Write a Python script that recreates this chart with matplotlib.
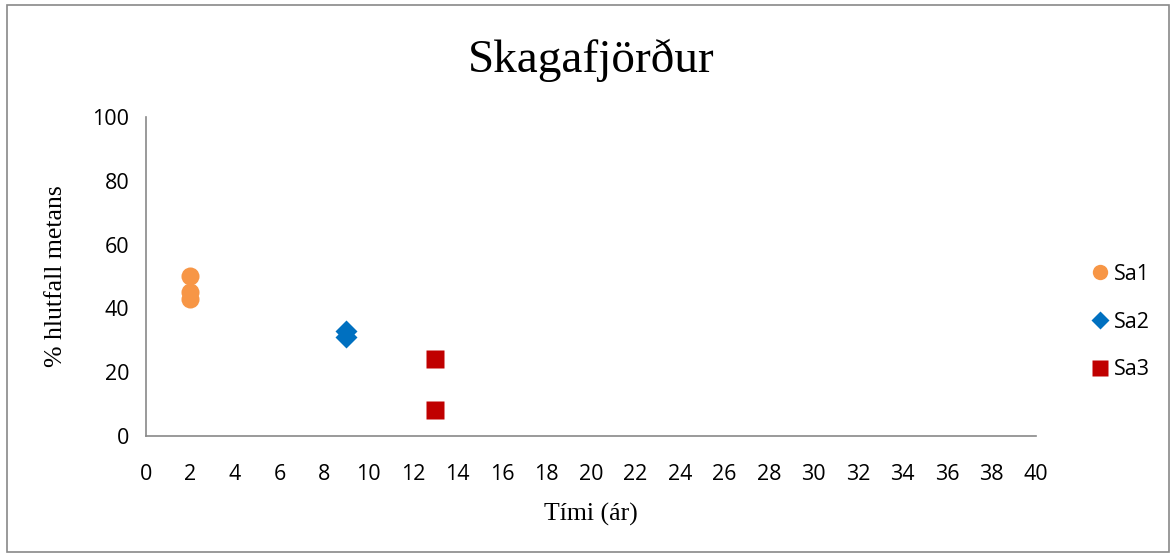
import matplotlib.pyplot as plt
from matplotlib.patches import Rectangle

# Datos
sa1_x = [2, 2, 2]
sa1_y = [50, 45, 43]
sa2_x = [9, 9]
sa2_y = [33, 31]
sa3_x = [13, 13]
sa3_y = [24, 8]

x_ticks = list(range(0, 41, 2))
y_ticks = [0, 20, 40, 60, 80, 100]

fig = plt.figure(figsize=(11.76, 5.54), dpi=100)
ax = fig.add_axes([0.1241, 0.213, 0.757, 0.576])

ax.plot(sa1_x, sa1_y, 'o', color='#F79646', ms=13, mec='none', label='Sa1', clip_on=False)
ax.plot(sa2_x, sa2_y, 'D', color='#0070C0', ms=11, mec='none', label='Sa2', clip_on=False)
ax.plot(sa3_x, sa3_y, 's', color='#C00000', ms=13, mec='none', label='Sa3', clip_on=False)

ax.set_xlim(0, 40)
ax.set_ylim(0, 100)
ax.set_xticks(x_ticks)
ax.set_yticks(y_ticks)
ax.tick_params(length=0, labelsize=15.5)
ax.tick_params(axis='x', pad=20)
ax.tick_params(axis='y', pad=12)
for lab in ax.get_xticklabels() + ax.get_yticklabels():
    lab.set_family('Open Sans')

for s in ['top', 'right']:
    ax.spines[s].set_visible(False)
for s in ['left', 'bottom']:
    ax.spines[s].set_color('#898989')
    ax.spines[s].set_linewidth(1.2)

ax.set_title('Skagafjörður', family='Liberation Serif', fontsize=34, pad=32)
ax.set_xlabel('Tími (ár)', family='Liberation Serif', fontsize=18.5, labelpad=13)
ax.set_ylabel('% hlutfall metans', family='Liberation Serif', fontsize=18.5, labelpad=18)

leg = ax.legend(loc='center left', bbox_to_anchor=(1.035, 0.357), frameon=False,
                prop={'family': 'Open Sans', 'size': 15.5}, labelspacing=1.25,
                handletextpad=0.05, handlelength=1.2, markerscale=0.85)

fig.patches.append(Rectangle((0.006, 0.003), 0.988, 0.988, transform=fig.transFigure,
                             fill=False, edgecolor='#898989', linewidth=1.2))

plt.savefig('out.png', dpi=100)
